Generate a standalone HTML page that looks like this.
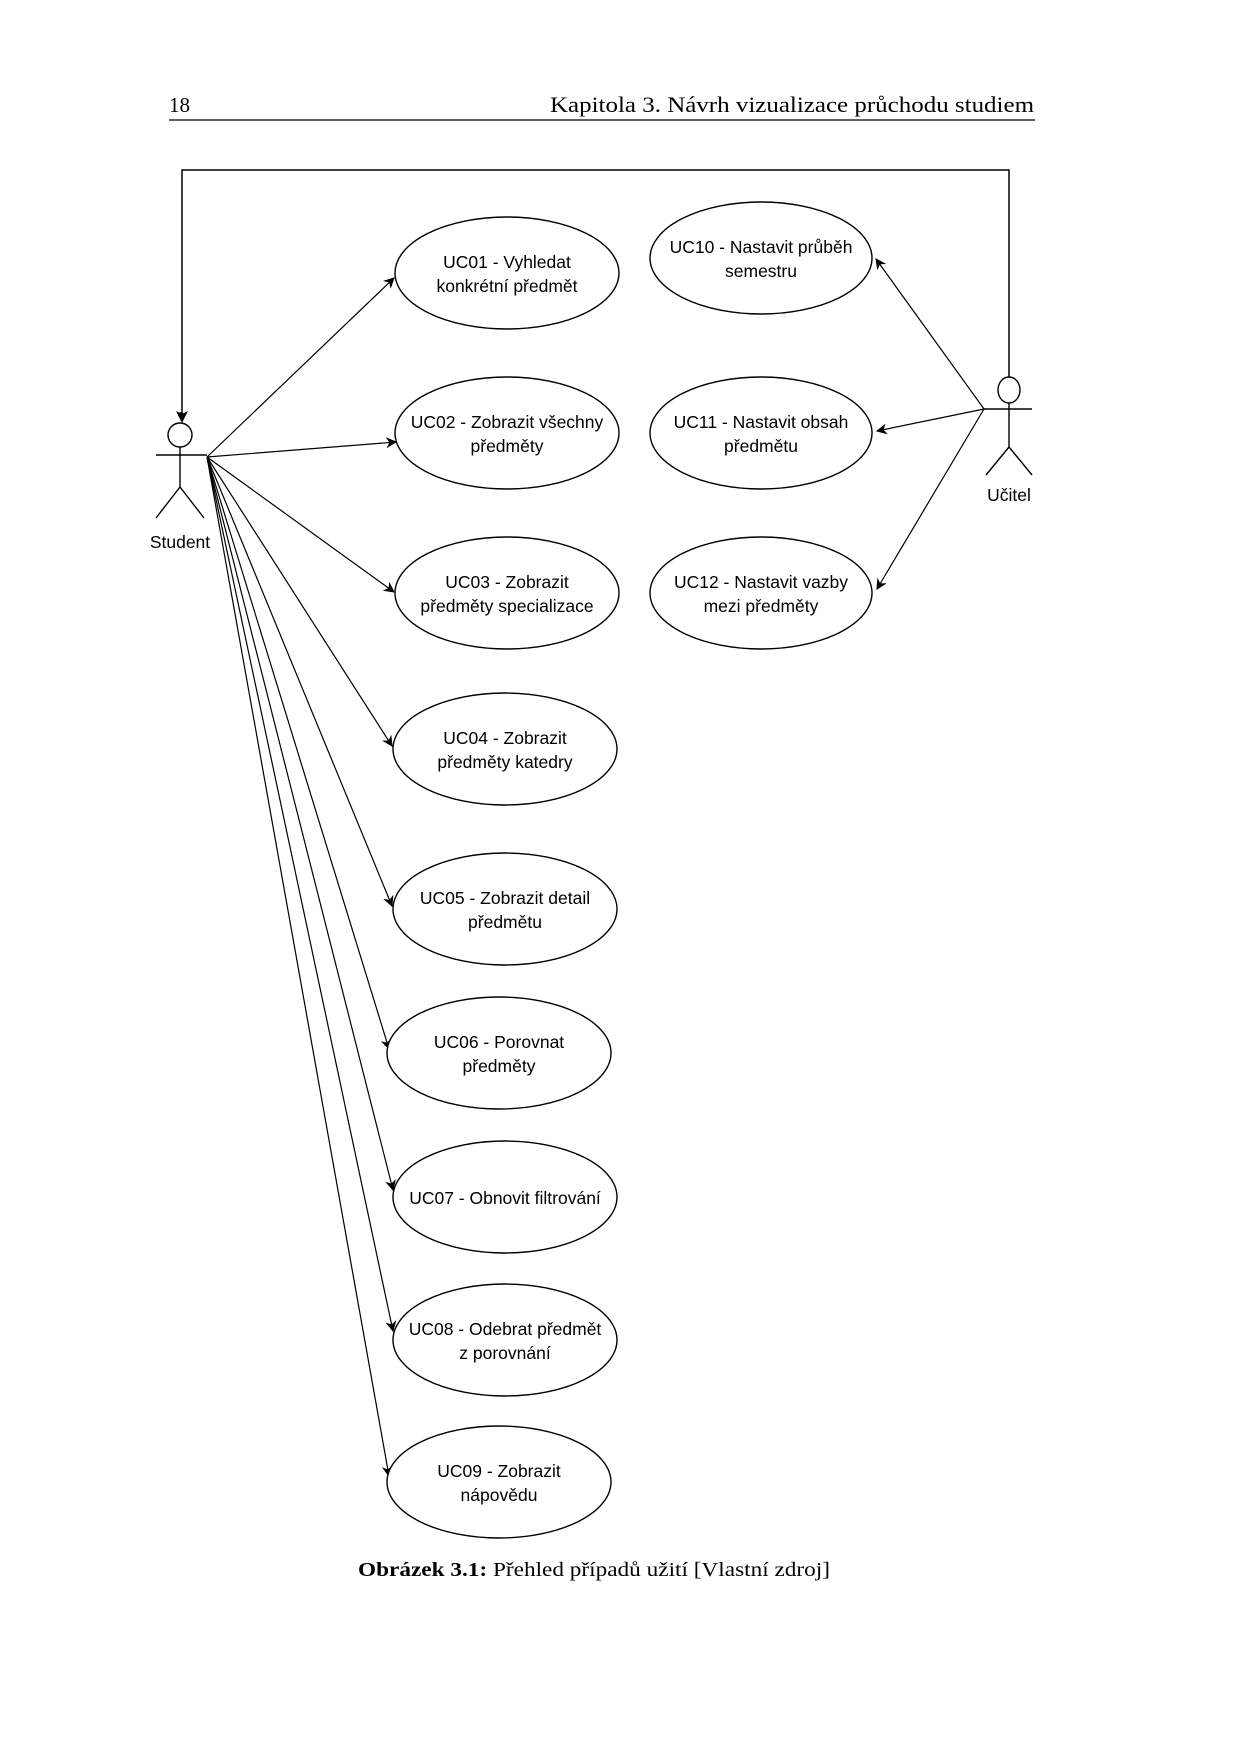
<!DOCTYPE html>
<html><head><meta charset="utf-8"><style>
html,body{margin:0;padding:0;background:#fff;}
body{width:1240px;height:1754px;position:relative;overflow:hidden;}
svg{position:absolute;left:0;top:0;}
</style></head><body>
<svg width="1240" height="1754" viewBox="0 0 1240 1754" xmlns="http://www.w3.org/2000/svg">
<defs>
<marker id="a" viewBox="0 0 10 10" refX="9" refY="5" markerWidth="11" markerHeight="11" markerUnits="userSpaceOnUse" orient="auto">
<path d="M0,0 L10,5 L0,10 L3,5 z" fill="#000"/>
</marker>
</defs>
<text x="169" y="112" font-family="Liberation Serif, serif" font-size="21">18</text>
<text x="550" y="112" textLength="484" lengthAdjust="spacingAndGlyphs" font-family="Liberation Serif, serif" font-size="22">Kapitola 3.  Návrh vizualizace průchodu studiem</text>
<line x1="169" y1="120" x2="1035" y2="120" stroke="#000" stroke-width="1.3"/>

<g stroke="#000" stroke-width="1.5" fill="none">
<polyline points="1009,377 1009,170 182,170 182,418" />
</g>
<path d="M176,411 L182,423 L188,411 L182,414 z" fill="#000"/>
<circle cx="181" cy="415" r="3" fill="#000"/>

<!-- Student -->
<g stroke="#000" stroke-width="1.4" fill="none">
<ellipse cx="180" cy="435" rx="12" ry="12"/>
<line x1="180" y1="447" x2="180" y2="487"/>
<line x1="156" y1="455" x2="207" y2="455"/>
<line x1="180" y1="487" x2="156" y2="518"/>
<line x1="180" y1="487" x2="204" y2="518"/>
<!-- Ucitel -->
<ellipse cx="1009" cy="390" rx="11" ry="13"/>
<line x1="1009" y1="403" x2="1009" y2="447"/>
<line x1="984" y1="409" x2="1032" y2="409"/>
<line x1="1009" y1="447" x2="986" y2="475"/>
<line x1="1009" y1="447" x2="1032" y2="475"/>
</g>
<text x="180" y="548" text-anchor="middle" font-family="Liberation Sans, sans-serif" font-size="17.5">Student</text>
<text x="1009" y="501" text-anchor="middle" font-family="Liberation Sans, sans-serif" font-size="17.5">Učitel</text>

<!-- connectors -->
<g stroke="#000" stroke-width="1.2" fill="none" marker-end="url(#a)">
<line x1="207" y1="457" x2="394" y2="278"/>
<line x1="207" y1="457" x2="396" y2="442"/>
<line x1="207" y1="457" x2="394" y2="592"/>
<line x1="207" y1="457" x2="392" y2="746"/>
<line x1="207" y1="457" x2="392" y2="906"/>
<line x1="207" y1="457" x2="389" y2="1049"/>
<line x1="207" y1="457" x2="393" y2="1190"/>
<line x1="207" y1="457" x2="393" y2="1331"/>
<line x1="207" y1="457" x2="389" y2="1476"/>
<line x1="984" y1="409" x2="876" y2="259"/>
<line x1="984" y1="409" x2="877" y2="431"/>
<line x1="984" y1="409" x2="877" y2="589"/>
</g>

<g stroke="#000" stroke-width="1.4" fill="#fff">
<ellipse cx="507" cy="273" rx="112" ry="56"/>
<ellipse cx="507" cy="433" rx="112" ry="56"/>
<ellipse cx="507" cy="593" rx="112" ry="56"/>
<ellipse cx="505" cy="749" rx="112" ry="56"/>
<ellipse cx="505" cy="909" rx="112" ry="56"/>
<ellipse cx="499" cy="1053" rx="112" ry="56"/>
<ellipse cx="505" cy="1197" rx="112" ry="56"/>
<ellipse cx="505" cy="1340" rx="112" ry="56"/>
<ellipse cx="499" cy="1482" rx="112" ry="56"/>
<ellipse cx="761" cy="258" rx="111" ry="56"/>
<ellipse cx="761" cy="433" rx="111" ry="56"/>
<ellipse cx="761" cy="593" rx="111" ry="56"/>
</g>

<g font-family="Liberation Sans, sans-serif" font-size="17.5" text-anchor="middle" fill="#000">
<text x="507" y="268">UC01 - Vyhledat</text><text x="507" y="292">konkrétní předmět</text>
<text x="507" y="428">UC02 - Zobrazit všechny</text><text x="507" y="452">předměty</text>
<text x="507" y="588">UC03 - Zobrazit</text><text x="507" y="612">předměty specializace</text>
<text x="505" y="744">UC04 - Zobrazit</text><text x="505" y="768">předměty katedry</text>
<text x="505" y="904">UC05 - Zobrazit detail</text><text x="505" y="928">předmětu</text>
<text x="499" y="1048">UC06 - Porovnat</text><text x="499" y="1072">předměty</text>
<text x="505" y="1204">UC07 - Obnovit filtrování</text>
<text x="505" y="1335">UC08 - Odebrat předmět</text><text x="505" y="1359">z porovnání</text>
<text x="499" y="1477">UC09 - Zobrazit</text><text x="499" y="1501">nápovědu</text>
<text x="761" y="253">UC10 - Nastavit průběh</text><text x="761" y="277">semestru</text>
<text x="761" y="428">UC11 - Nastavit obsah</text><text x="761" y="452">předmětu</text>
<text x="761" y="588">UC12 - Nastavit vazby</text><text x="761" y="612">mezi předměty</text>
</g>

<text x="358" y="1576" textLength="472" lengthAdjust="spacingAndGlyphs" font-family="Liberation Serif, serif" font-size="20"><tspan font-weight="bold">Obrázek 3.1:</tspan> Přehled případů užití [Vlastní zdroj]</text>
</svg>
</body></html>
